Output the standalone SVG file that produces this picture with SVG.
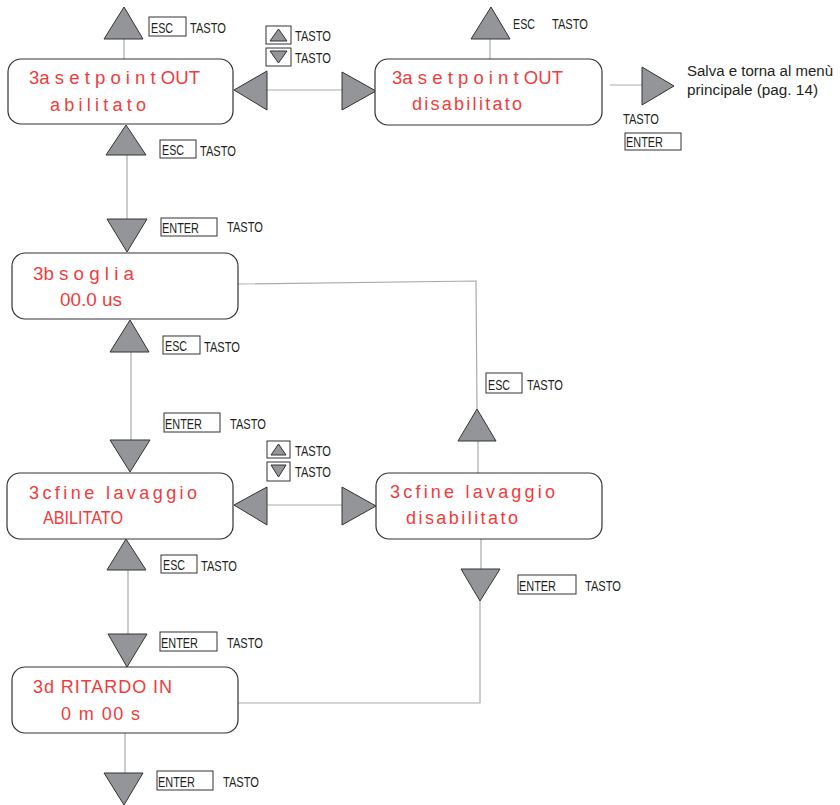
<svg xmlns="http://www.w3.org/2000/svg" width="840" height="805" viewBox="0 0 840 805">
<style>
.box{fill:#fff;stroke:#333;stroke-width:1.2}
.tri{fill:#939598;stroke:#333;stroke-width:1}
.ln{fill:none;stroke:#aaa;stroke-width:1.2}
.key{fill:#fff;stroke:#333;stroke-width:1}
.lcd{font-family:"Liberation Sans",Arial,sans-serif;font-size:18px;fill:#f03c3c}
.lb{font-family:"Liberation Sans",Arial,sans-serif;font-size:14px;fill:#231f20}
</style>
<rect width="840" height="805" fill="#fff"/>
<g id="connectors">
<path class="ln" d="M124,39V59M127,155V219M131,352V440M128,570V634M125,733V773M490,39V59M610,85H642M267,90H342M267,505H342M478,473V441M477,409L476,281L238,284M481,539V569M480,601V703L238,703"/>
<polygon class="tri" points="124,7 104,39 143,39"/>
<polygon class="tri" points="126,125 106,155 146,155"/>
<polygon class="tri" points="107,219 147,219 127,252"/>
<polygon class="tri" points="130,320 110,352 149,352"/>
<polygon class="tri" points="110,440 150,440 130,472"/>
<polygon class="tri" points="126,539 107,570 146,570"/>
<polygon class="tri" points="108,634 147,634 127,667"/>
<polygon class="tri" points="104,773 143,773 124,805"/>
<polygon class="tri" points="491,7 471,39 510,39"/>
<polygon class="tri" points="642,67 642,105 674,86"/>
<polygon class="tri" points="234,90 267,71 267,110"/>
<polygon class="tri" points="342,72 342,110 376,91"/>
<polygon class="tri" points="234,505 267,487 267,525"/>
<polygon class="tri" points="342,487 342,525 376,506"/>
<polygon class="tri" points="477,409 458,441 496,441"/>
<polygon class="tri" points="461,569 500,569 480,601"/>
</g>
<g id="labels">
<rect class="key" x="149" y="17" width="37" height="19"/><text class="lb" x="151" y="33" textLength="22" lengthAdjust="spacingAndGlyphs">ESC</text><text class="lb" x="190" y="33" textLength="36" lengthAdjust="spacingAndGlyphs">TASTO</text>
<rect class="key" x="160" y="140" width="36" height="18"/><text class="lb" x="162" y="155" textLength="22" lengthAdjust="spacingAndGlyphs">ESC</text><text class="lb" x="200" y="156" textLength="36" lengthAdjust="spacingAndGlyphs">TASTO</text>
<rect class="key" x="161" y="218" width="56" height="18"/><text class="lb" x="162" y="233" textLength="37" lengthAdjust="spacingAndGlyphs">ENTER</text><text class="lb" x="227" y="232" textLength="36" lengthAdjust="spacingAndGlyphs">TASTO</text>
<rect class="key" x="163" y="336" width="37" height="18"/><text class="lb" x="165" y="351" textLength="22" lengthAdjust="spacingAndGlyphs">ESC</text><text class="lb" x="204" y="352" textLength="36" lengthAdjust="spacingAndGlyphs">TASTO</text>
<rect class="key" x="164" y="413" width="56" height="19"/><text class="lb" x="165" y="429" textLength="37" lengthAdjust="spacingAndGlyphs">ENTER</text><text class="lb" x="230" y="429" textLength="36" lengthAdjust="spacingAndGlyphs">TASTO</text>
<rect class="key" x="161" y="555" width="36" height="18"/><text class="lb" x="163" y="570" textLength="22" lengthAdjust="spacingAndGlyphs">ESC</text><text class="lb" x="201" y="571" textLength="36" lengthAdjust="spacingAndGlyphs">TASTO</text>
<rect class="key" x="160" y="632" width="57" height="19"/><text class="lb" x="161" y="648" textLength="37" lengthAdjust="spacingAndGlyphs">ENTER</text><text class="lb" x="227" y="648" textLength="36" lengthAdjust="spacingAndGlyphs">TASTO</text>
<rect class="key" x="157" y="771" width="56" height="19"/><text class="lb" x="158" y="787" textLength="37" lengthAdjust="spacingAndGlyphs">ENTER</text><text class="lb" x="223" y="787" textLength="36" lengthAdjust="spacingAndGlyphs">TASTO</text>
<rect class="key" x="486" y="373" width="36" height="20"/><text class="lb" x="488" y="390" textLength="22" lengthAdjust="spacingAndGlyphs">ESC</text><text class="lb" x="527" y="390" textLength="36" lengthAdjust="spacingAndGlyphs">TASTO</text>
<rect class="key" x="518" y="575" width="58" height="19"/><text class="lb" x="519" y="591" textLength="37" lengthAdjust="spacingAndGlyphs">ENTER</text><text class="lb" x="585" y="591" textLength="36" lengthAdjust="spacingAndGlyphs">TASTO</text>
<text class="lb" x="513" y="29" textLength="22" lengthAdjust="spacingAndGlyphs">ESC</text><text class="lb" x="552" y="29" textLength="36" lengthAdjust="spacingAndGlyphs">TASTO</text>
<text class="lb" x="623" y="124" textLength="36" lengthAdjust="spacingAndGlyphs">TASTO</text>
<rect class="key" x="625" y="133" width="56" height="17"/><text class="lb" x="626" y="147" textLength="37" lengthAdjust="spacingAndGlyphs">ENTER</text>
<text class="lb" x="687" y="76" textLength="146" lengthAdjust="spacingAndGlyphs">Salva e torna al menù</text>
<text class="lb" x="687" y="95" textLength="131" lengthAdjust="spacingAndGlyphs">principale (pag. 14)</text>
<rect class="key" x="266" y="26" width="25" height="18"/><polygon class="tri" points="278.5,29 270,41 287,41"/>
<rect class="key" x="266" y="48" width="25" height="18"/><polygon class="tri" points="270,51 287,51 278.5,63"/>
<text class="lb" x="295" y="41" textLength="36" lengthAdjust="spacingAndGlyphs">TASTO</text><text class="lb" x="295" y="63" textLength="36" lengthAdjust="spacingAndGlyphs">TASTO</text>
<rect class="key" x="267" y="441" width="23" height="17"/><polygon class="tri" points="278.5,444 271,455 286,455"/>
<rect class="key" x="267" y="462" width="23" height="19"/><polygon class="tri" points="271,465 286,465 278.5,477"/>
<text class="lb" x="295" y="456" textLength="36" lengthAdjust="spacingAndGlyphs">TASTO</text><text class="lb" x="295" y="477" textLength="36" lengthAdjust="spacingAndGlyphs">TASTO</text>
</g>
<g id="node-3a-abilitato">
<rect class="box" x="8" y="59" width="225" height="65" rx="13"/>
<text class="lcd" x="29" y="84" textLength="171" lengthAdjust="spacingAndGlyphs">3a s e t p o i n t OUT</text>
<text class="lcd" x="50" y="111" textLength="96" lengthAdjust="spacing">abilitato</text>
</g>
<g id="node-3a-disabilitato">
<rect class="box" x="375" y="59" width="227" height="66" rx="13"/>
<text class="lcd" x="392" y="84" textLength="171" lengthAdjust="spacingAndGlyphs">3a s e t p o i n t OUT</text>
<text class="lcd" x="412" y="110" textLength="110" lengthAdjust="spacing">disabilitato</text>
</g>
<g id="node-3b">
<rect class="box" x="12" y="253" width="226" height="66" rx="13"/>
<text class="lcd" x="33" y="280" textLength="101" lengthAdjust="spacingAndGlyphs">3b s o g l i a</text>
<text class="lcd" x="60" y="306" textLength="62" lengthAdjust="spacingAndGlyphs">00.0 us</text>
</g>
<g id="node-3c-abilitato">
<rect class="box" x="7" y="473" width="226" height="66" rx="13"/>
<text class="lcd" x="29" y="499" textLength="168" lengthAdjust="spacing">3cfine lavaggio</text>
<text class="lcd" x="43" y="524" textLength="80" lengthAdjust="spacingAndGlyphs">ABILITATO</text>
</g>
<g id="node-3c-disabilitato">
<rect class="box" x="376" y="473" width="226" height="66" rx="13"/>
<text class="lcd" x="390" y="498" textLength="165" lengthAdjust="spacing">3cfine lavaggio</text>
<text class="lcd" x="406" y="524" textLength="112" lengthAdjust="spacing">disabilitato</text>
</g>
<g id="node-3d">
<rect class="box" x="12" y="667" width="226" height="66" rx="13"/>
<text class="lcd" x="33" y="693" textLength="139" lengthAdjust="spacing">3d RITARDO  IN</text>
<text class="lcd" x="61" y="720" textLength="79" lengthAdjust="spacing">0 m 00 s</text>
</g>
</svg>
